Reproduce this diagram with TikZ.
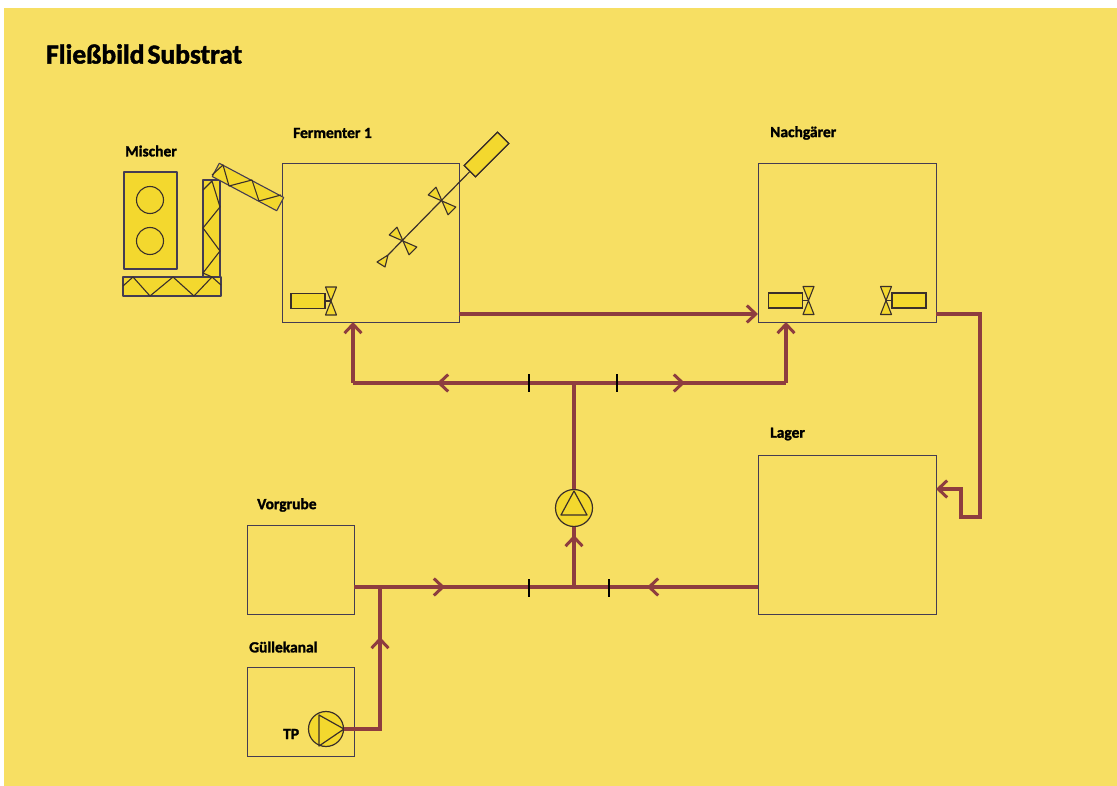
\documentclass[tikz,border=0pt]{standalone}
\usepackage{fontspec}
\setmainfont[BoldFeatures={FakeBold=1.6}]{Carlito}
\usepackage{tikz}
\usetikzlibrary{arrows.meta,calc}
\definecolor{paper}{HTML}{F7DF63}
\definecolor{unitfill}{HTML}{F3D82E}
\definecolor{pipecol}{HTML}{8E3D3F}
\definecolor{edge}{HTML}{443C52}
\definecolor{darkedge}{HTML}{3A2F2A}

\newcommand{\propeller}[3]{% x, y, rotation
  \begin{scope}[shift={(#1,#2)},rotate=#3]
    \draw[unit] (0,0) -- (-5.5,-14) -- (5.5,-14) -- cycle;
    \draw[unit] (0,0) -- (-5.5,14) -- (5.5,14) -- cycle;
  \end{scope}}
\newcommand{\agitator}[4]{% name, x, y, rotation of the motor side
  \propeller{#2}{#3}{#4}
  \node[motor,rotate=#4] (#1) at ($(#2,#3)+(#4:-23)$) {};
  \draw[darkedge,line width=1.2pt] (#1) -- (#2,#3);
  \node[motor,rotate=#4] at (#1) {};}

\begin{document}
\begin{tikzpicture}[x=1pt,y=-1pt,
  tank/.style={draw=edge, line width=0.9pt, inner sep=0, outer sep=0},
  motor/.style={draw=darkedge, fill=unitfill, line width=1.3pt, minimum width=34pt, minimum height=15pt, inner sep=0},
  unit/.style={draw=darkedge, fill=unitfill, line width=1.1pt, line join=round},
  zig/.style={draw=darkedge, line width=1.1pt, line join=round},
  pumpc/.style={circle, draw=darkedge, fill=unitfill, line width=1.2pt, inner sep=0},
  pipe/.style={draw=pipecol, line width=3.2pt},
  flow/.style={pipe, -{Straight Barb[length=9pt,width=17pt,line width=3pt]}},
  tick/.style={fill=black, minimum width=2pt, minimum height=18pt, inner sep=0},
  lab/.style={font=\bfseries\fontsize{15.5}{17}\selectfont, anchor=west, inner sep=0}]
\useasboundingbox (0,0) rectangle (1117,786);
\fill[paper] (4,8) rectangle (1117,786);
\node[anchor=west, inner sep=0, font=\bfseries\fontsize{27.5}{32}\selectfont] (title) at (46,54) {\spaceskip=3pt Fließbild Substrat};

% tanks
\node[tank, minimum width=177pt, minimum height=159pt] (fermenter) at (370.5,242.5) {};
\node[tank, minimum width=178pt, minimum height=159pt] (nachgaerer) at (847,242.5) {};
\node[tank, minimum width=178pt, minimum height=159pt] (lager) at (847,534.5) {};
\node[tank, minimum width=107pt, minimum height=89pt] (vorgrube) at (300.5,569.5) {};
\node[tank, minimum width=107pt, minimum height=89pt] (guellekanal) at (300.5,711.5) {};
\node[lab] (labMischer) at (125,151) {Mischer};
\node[lab] (labFermenter) at (293,133) {Fermenter 1};
\node[lab] (labNachgaerer) at (770,133) {Nachgärer};
\node[lab] (labLager) at (770,434) {Lager};
\node[lab] (labVorgrube) at (257,505) {Vorgrube};
\node[lab] (labGuelle) at (249,647) {Güllekanal};
\node[lab] (labTP) at (283,734) {TP};

% mixer and screws
\node[unit, draw=edge, minimum width=53pt, minimum height=97pt, inner sep=0] (mischer) at (150.5,220.5) {};
\node[circle, draw=darkedge, line width=1.1pt, minimum size=27pt, inner sep=0] (rotorA) at (150,200) {};
\node[circle, draw=darkedge, line width=1.1pt, minimum size=27pt, inner sep=0] (rotorB) at (150,241) {};
\node[unit, draw=edge, minimum width=17pt, minimum height=100pt, inner sep=0] (screwUp) at (211.5,230) {};
\node[unit, draw=edge, minimum width=98pt, minimum height=19pt, inner sep=0] (screwFlat) at (172,286.5) {};
\node[unit, draw=edge, minimum width=73pt, minimum height=15pt, inner sep=0, rotate=-28] (screwTop) at (248,187) {};
\draw[zig] (203,190) -- (212,181) -- (220,207) -- (203,228) -- (220,251) -- (203,273) -- (212,277);
\draw[zig] (123,286) -- (133,277) -- (150,296) -- (173,277) -- (194,296) -- (212,277) -- (221,285);
\draw[zig] (212,175) -- (223,165) -- (229,186) -- (252,180) -- (259,201) -- (281,195);

% agitators
\agitator{motorF}{331}{301}{0}
\agitator{motorNa}{808.5}{300.5}{0}
\agitator{motorNb}{886}{300.5}{180}
\coordinate (shaftEnd) at (388,255);
\node[motor, minimum width=47pt, minimum height=16pt, rotate=45] (motorDiag) at (486.5,154.5) {};
\draw[darkedge, line width=1.2pt] (motorDiag) -- (shaftEnd);
\node[motor, minimum width=47pt, minimum height=16pt, rotate=45] at (motorDiag) {};
\propeller{442}{201}{45}
\propeller{403}{241}{45}
\draw[unit] (shaftEnd) -- (377,262) -- (385,267) -- cycle;

% pumps
\node[pumpc, minimum size=37pt] (pumpMain) at (574,508) {};
\node[pumpc, minimum size=35pt] (pumpTP) at (326,729) {};
\draw[darkedge, line width=1.2pt, line join=round] (574,491) -- (561,515) -- (587,515) -- cycle;
\draw[darkedge, line width=1.2pt, line join=round] (319,715) -- (319,746) -- (344,729) -- cycle;

% pipes
\coordinate (joinLow) at (574,587);
\coordinate (joinTop) at (574,383);
\coordinate (joinSlurry) at (380,587);
\coordinate (cornerSlurry) at (380,729);
\coordinate (cornerF) at (353,383);
\coordinate (cornerN) at (786,383);
\coordinate (outN) at (980,314);
\coordinate (loopA) at (980,517);
\coordinate (loopB) at (961,517);
\coordinate (loopC) at (961,489);
\draw[pipe] (joinLow) -- (pumpMain.south);
\draw[flow] (joinLow) -- (574,535);
\draw[pipe] (pumpMain.north) -- (joinTop);
\draw[pipe] (cornerF) -- (cornerN);
\draw[flow] (joinTop) -- (437,383);
\draw[flow] (joinTop) -- (685,383);
\draw[flow] (cornerF) -- (cornerF |- fermenter.south);
\draw[flow] (cornerN) -- (cornerN |- nachgaerer.south);
\draw[flow] (fermenter.south east |- 0,314) -- (nachgaerer.south west |- 0,314);
\draw[flow] (nachgaerer.south east |- outN) -- (outN) -- (loopA) -- (loopB) -- (loopC) -- (lager.east |- loopC);
\draw[pipe] (vorgrube.east |- joinLow) -- (joinLow);
\draw[flow] (vorgrube.east |- joinLow) -- (445,587);
\draw[pipe] (lager.west |- joinLow) -- (joinLow);
\draw[flow] (lager.west |- joinLow) -- (647,587);
\draw[pipe] (pumpTP.east) -- (cornerSlurry) -- (joinSlurry);
\draw[flow] (cornerSlurry) -- (380,637);

% gate valves
\node[tick] (valveA) at (529,383.5) {};
\node[tick] (valveB) at (617,383.5) {};
\node[tick] (valveC) at (529,587.5) {};
\node[tick] (valveD) at (609,587.5) {};
\end{tikzpicture}
\end{document}
